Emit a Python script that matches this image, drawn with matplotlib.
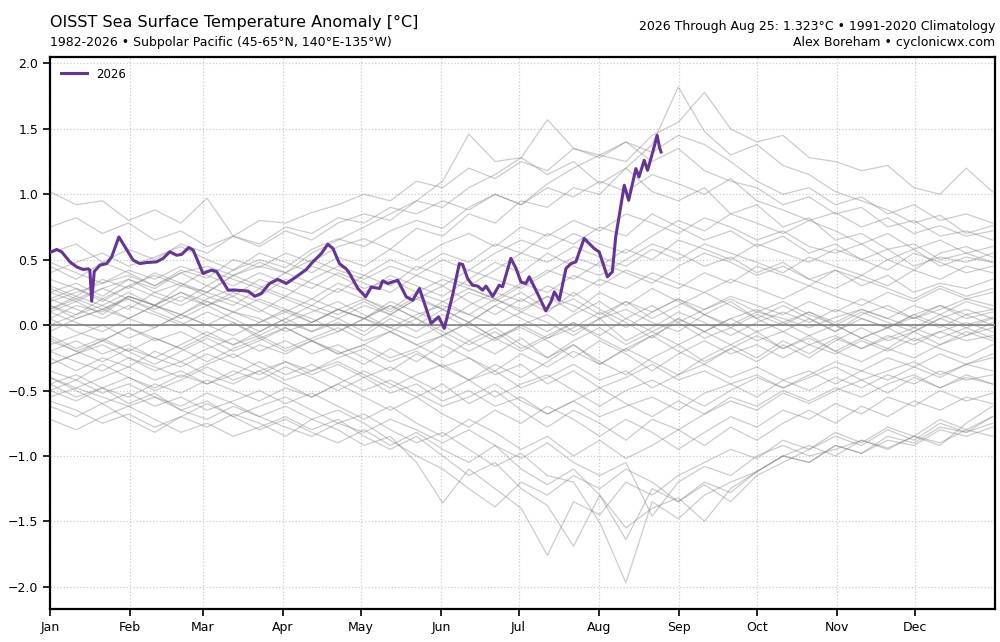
#!/usr/bin/env python3

import matplotlib
matplotlib.use('Agg')
import matplotlib.pyplot as plt
import numpy as np

# month ticks (day of year) and labels
month_days = [0, 31, 59, 90, 120, 151, 181, 212, 243, 273, 304, 334]
month_labels = ['Jan', 'Feb', 'Mar', 'Apr', 'May', 'Jun',
                'Jul', 'Aug', 'Sep', 'Oct', 'Nov', 'Dec']

# 2026 anomaly (day of year, degC)
days_2026 = [0, 2.6, 4.5, 7.7, 10.3, 12.8, 14.8, 15.4, 16.1, 17.1, 19.3, 21.9,
             23.8, 26.6, 28.9, 32.1, 34.7, 37.3, 41.1, 43.7, 46.3, 48.9, 50.8,
             53.6, 55.3, 59.1, 62.4, 64.3, 68.8, 72, 76.5, 79.1, 81.6, 84.8,
             88, 91.3, 95.1, 99, 101.5, 104.8, 107.3, 109.3, 111.8, 114.4,
             115.7, 118.9, 121.9, 124.1, 127.3, 128.5, 130.5, 134.3, 137.6,
             140.1, 142.7, 147.2, 150.1, 152.3, 155.5, 158.1, 159.4, 161.3,
             163.2, 165.2, 167.1, 168.4, 171, 173.5, 174.8, 178, 180, 181.9,
             183.8, 185.1, 188.3, 191.5, 193.5, 194.8, 196.7, 199.3, 201.2,
             203.1, 206.3, 210.2, 212.1, 215.3, 217.2, 218.5, 221.8, 223.5,
             226.3, 227.5, 229.5, 230.8, 233, 234.5, 235.4, 236]
vals_2026 = [0.555, 0.578, 0.56, 0.483, 0.445, 0.425, 0.43, 0.42, 0.183, 0.41,
             0.458, 0.47, 0.52, 0.674, 0.60, 0.496, 0.47, 0.478, 0.483, 0.51,
             0.56, 0.534, 0.54, 0.593, 0.573, 0.395, 0.42, 0.41, 0.267, 0.267,
             0.26, 0.22, 0.242, 0.318, 0.349, 0.318, 0.369, 0.425, 0.483,
             0.547, 0.618, 0.585, 0.47, 0.43, 0.395, 0.28, 0.216, 0.29, 0.28,
             0.338, 0.318, 0.343, 0.216, 0.19, 0.28, 0.013, 0.063, -0.025,
             0.229, 0.47, 0.463, 0.356, 0.305, 0.298, 0.267, 0.298, 0.22,
             0.305, 0.293, 0.51, 0.433, 0.33, 0.318, 0.369, 0.242, 0.109,
             0.178, 0.254, 0.19, 0.433, 0.47, 0.483, 0.662, 0.585, 0.56, 0.369,
             0.407, 0.674, 1.069, 0.954, 1.196, 1.132, 1.26, 1.183, 1.336,
             1.45, 1.36, 1.323]

# earlier years, sampled about every 10 days from Jan 1 to Dec 30
gray_days = np.linspace(0, 364, 37)

warm_years = [
    [1.02, 0.92, 0.95, 0.80, 0.88, 0.78, 0.97, 0.68, 0.80, 0.78, 0.86, 0.92, 1.00, 0.95, 1.10, 1.05, 1.20, 1.12, 1.25, 1.18, 1.35, 1.28, 1.40, 1.32, 1.45, 1.38, 1.25, 1.10, 1.00, 1.05, 0.92, 0.98, 0.85, 0.92, 0.80, 0.85, 0.78],
    [0.45, 0.35, 0.48, 0.40, 0.30, 0.42, 0.36, 0.50, 0.44, 0.55, 0.48, 0.60, 0.66, 0.58, 0.74, 0.68, 0.85, 0.78, 0.95, 0.90, 1.05, 1.00, 1.20, 1.38, 1.82, 1.48, 1.30, 1.38, 1.22, 1.15, 1.02, 0.95, 0.88, 0.78, 0.84, 0.70, 0.76],
    [0.25, 0.32, 0.22, 0.35, 0.28, 0.40, 0.30, 0.42, 0.50, 0.44, 0.58, 0.66, 0.60, 0.72, 0.80, 0.74, 0.90, 1.00, 0.92, 1.08, 1.20, 1.30, 1.25, 1.45, 1.55, 1.78, 1.50, 1.40, 1.45, 1.28, 1.25, 1.18, 1.22, 1.05, 1.00, 1.20, 1.02],
    [0.10, 0.18, 0.08, 0.22, 0.15, 0.30, 0.25, 0.38, 0.45, 0.40, 0.55, 0.65, 0.75, 0.85, 0.95, 1.10, 1.46, 1.25, 1.28, 1.15, 1.25, 1.08, 1.20, 1.02, 0.95, 1.05, 0.85, 0.92, 0.75, 0.82, 0.65, 0.70, 0.58, 0.62, 0.50, 0.55, 0.48],
    [0.55, 0.62, 0.48, 0.58, 0.50, 0.62, 0.55, 0.68, 0.60, 0.72, 0.65, 0.78, 0.85, 0.80, 0.95, 0.90, 1.05, 1.15, 1.28, 1.57, 1.35, 1.30, 1.40, 1.25, 1.35, 1.18, 1.10, 1.05, 0.92, 0.98, 0.85, 0.90, 0.75, 0.80, 0.68, 0.72, 0.65],
    [0.75, 0.82, 0.70, 0.78, 0.65, 0.72, 0.60, 0.68, 0.62, 0.75, 0.70, 0.82, 0.78, 0.90, 0.85, 0.95, 0.88, 1.00, 0.92, 1.05, 0.98, 1.10, 1.02, 1.15, 1.08, 1.00, 1.12, 0.95, 0.88, 0.80, 0.86, 0.75, 0.82, 0.70, 0.76, 0.68, 0.72],
]

mild_years = [
    [0.40, 0.48, 0.55, 0.45, 0.52, 0.60, 0.50, 0.42, 0.55, 0.48, 0.40, 0.52, 0.45, 0.58, 0.50, 0.62, 0.70, 0.60, 0.75, 0.68, 0.80, 0.72, 0.85, 0.78, 0.70, 0.82, 0.75, 0.65, 0.72, 0.60, 0.55, 0.62, 0.50, 0.58, 0.45, 0.52, 0.48],
    [0.30, 0.22, 0.35, 0.28, 0.40, 0.32, 0.25, 0.38, 0.30, 0.22, 0.35, 0.45, 0.38, 0.50, 0.42, 0.55, 0.48, 0.62, 0.55, 0.70, 0.62, 0.75, 0.68, 0.85, 0.75, 0.65, 0.72, 0.60, 0.68, 0.55, 0.62, 0.50, 0.58, 0.45, 0.52, 0.48, 0.55],
    [0.20, 0.28, 0.18, 0.30, 0.38, 0.30, 0.42, 0.35, 0.28, 0.40, 0.32, 0.25, 0.38, 0.30, 0.45, 0.38, 0.30, 0.42, 0.55, 0.48, 0.60, 0.52, 0.45, 0.58, 0.50, 0.62, 0.55, 0.48, 0.40, 0.52, 0.45, 0.38, 0.50, 0.42, 0.55, 0.60, 0.52],
    [0.15, 0.08, 0.20, 0.12, 0.25, 0.18, 0.30, 0.22, 0.35, 0.28, 0.20, 0.32, 0.25, 0.38, 0.30, 0.22, 0.35, 0.48, 0.40, 0.55, 0.45, 0.38, 0.50, 0.62, 0.55, 0.45, 0.52, 0.40, 0.48, 0.35, 0.42, 0.30, 0.38, 0.25, 0.32, 0.28, 0.35],
    [0.05, 0.15, 0.10, 0.22, 0.15, 0.08, 0.20, 0.28, 0.22, 0.35, 0.28, 0.40, 0.32, 0.25, 0.38, 0.30, 0.42, 0.35, 0.28, 0.40, 0.52, 0.45, 0.58, 0.50, 0.65, 0.58, 0.50, 0.62, 0.55, 0.48, 0.58, 0.50, 0.42, 0.55, 0.48, 0.40, 0.45],
    [0.35, 0.28, 0.20, 0.30, 0.22, 0.15, 0.25, 0.18, 0.10, 0.22, 0.15, 0.28, 0.20, 0.12, 0.25, 0.35, 0.28, 0.20, 0.32, 0.25, 0.38, 0.30, 0.42, 0.35, 0.28, 0.40, 0.32, 0.45, 0.38, 0.30, 0.42, 0.35, 0.28, 0.20, 0.30, 0.22, 0.28],
    [0.25, 0.18, 0.28, 0.35, 0.25, 0.32, 0.22, 0.15, 0.28, 0.20, 0.12, 0.05, 0.15, 0.08, 0.20, 0.12, 0.25, 0.18, 0.30, 0.42, 0.35, 0.48, 0.40, 0.32, 0.45, 0.55, 0.48, 0.38, 0.45, 0.35, 0.28, 0.38, 0.30, 0.42, 0.35, 0.45, 0.40],
    [0.12, 0.20, 0.28, 0.20, 0.12, 0.22, 0.15, 0.25, 0.18, 0.10, 0.20, 0.12, 0.05, 0.18, 0.10, 0.02, 0.15, 0.25, 0.18, 0.30, 0.22, 0.35, 0.28, 0.40, 0.32, 0.25, 0.35, 0.28, 0.20, 0.30, 0.22, 0.15, 0.25, 0.18, 0.28, 0.20, 0.25],
    [0.48, 0.40, 0.32, 0.42, 0.35, 0.45, 0.38, 0.30, 0.40, 0.32, 0.45, 0.38, 0.28, 0.35, 0.25, 0.18, 0.28, 0.20, 0.12, 0.22, 0.15, 0.05, 0.18, 0.10, 0.20, 0.12, 0.22, 0.15, 0.08, 0.18, 0.10, 0.20, 0.12, 0.05, 0.15, 0.08, 0.12],
    [0.18, 0.25, 0.32, 0.38, 0.30, 0.40, 0.45, 0.38, 0.48, 0.40, 0.50, 0.42, 0.35, 0.45, 0.38, 0.50, 0.42, 0.55, 0.65, 0.58, 0.70, 0.62, 0.55, 0.68, 0.80, 0.72, 0.85, 0.78, 0.70, 0.80, 0.72, 0.62, 0.70, 0.58, 0.65, 0.55, 0.60],
]

neutral_years = [
    [0.10, 0.02, -0.05, 0.05, -0.02, 0.08, 0.00, 0.10, 0.05, -0.05, 0.02, 0.12, 0.05, -0.02, 0.08, 0.15, 0.08, 0.00, 0.10, 0.02, -0.08, 0.05, 0.12, 0.02, -0.05, 0.08, 0.00, 0.10, 0.05, -0.02, 0.06, 0.12, 0.05, 0.15, 0.08, 0.18, 0.12],
    [-0.05, 0.05, 0.12, 0.05, 0.15, 0.08, 0.18, 0.10, 0.02, 0.12, 0.05, -0.05, 0.05, 0.15, 0.05, -0.08, 0.02, -0.10, 0.00, 0.08, -0.05, 0.05, -0.12, -0.02, 0.10, 0.02, -0.08, 0.02, 0.10, 0.02, 0.12, 0.05, -0.02, 0.08, 0.15, 0.05, 0.10],
    [0.20, 0.12, 0.05, 0.15, 0.08, 0.00, 0.10, 0.02, -0.08, 0.02, -0.05, 0.05, -0.05, 0.08, 0.00, 0.12, 0.02, 0.15, 0.05, -0.05, 0.08, 0.18, 0.05, 0.15, 0.02, 0.12, 0.20, 0.10, 0.18, 0.08, 0.00, 0.10, 0.02, -0.05, 0.05, 0.12, 0.05],
    [-0.15, -0.08, 0.00, -0.10, -0.02, 0.08, 0.00, -0.08, 0.02, 0.10, 0.02, 0.12, 0.20, 0.10, 0.22, 0.12, 0.02, 0.15, 0.25, 0.12, 0.20, 0.08, 0.18, 0.05, 0.15, 0.25, 0.15, 0.05, 0.15, 0.05, -0.05, 0.05, -0.02, 0.08, 0.00, -0.08, 0.02],
    [0.05, -0.05, -0.12, -0.02, -0.10, -0.18, -0.08, -0.15, -0.05, 0.05, -0.05, 0.02, -0.08, 0.05, -0.05, 0.08, -0.02, -0.12, 0.00, -0.10, 0.02, -0.08, 0.05, -0.05, -0.15, -0.05, 0.05, -0.05, 0.02, -0.08, 0.00, -0.10, -0.02, 0.06, -0.02, 0.08, 0.00],
    [-0.20, -0.12, -0.22, -0.15, -0.25, -0.15, -0.05, -0.15, -0.08, -0.18, -0.10, -0.02, -0.12, -0.05, -0.15, -0.25, -0.12, -0.02, -0.15, -0.25, -0.12, -0.02, -0.15, -0.05, 0.05, -0.05, 0.05, 0.12, 0.02, 0.10, 0.00, -0.10, -0.02, -0.12, -0.05, 0.02, -0.05],
    [0.28, 0.20, 0.12, 0.22, 0.15, 0.25, 0.18, 0.10, 0.20, 0.12, 0.02, 0.12, 0.05, -0.05, 0.05, -0.05, -0.15, -0.05, -0.18, -0.08, 0.02, -0.10, -0.20, -0.08, 0.02, -0.10, -0.02, 0.08, 0.00, 0.10, 0.02, 0.12, 0.05, -0.02, 0.08, 0.00, 0.06],
    [-0.10, -0.20, -0.12, -0.02, -0.12, -0.05, -0.15, -0.25, -0.15, -0.22, -0.12, -0.20, -0.30, -0.18, -0.28, -0.15, -0.25, -0.35, -0.22, -0.32, -0.20, -0.30, -0.18, -0.28, -0.38, -0.25, -0.15, -0.25, -0.12, -0.22, -0.10, -0.18, -0.08, -0.15, -0.05, -0.12, -0.08],
    [0.00, 0.08, 0.15, 0.25, 0.15, 0.05, 0.15, 0.22, 0.12, 0.02, 0.10, 0.18, 0.08, -0.02, -0.10, 0.00, -0.12, -0.22, -0.10, -0.25, -0.15, -0.30, -0.18, -0.08, -0.20, -0.30, -0.18, -0.28, -0.15, -0.25, -0.12, -0.02, -0.12, -0.05, 0.05, -0.02, -0.10],
    [-0.30, -0.22, -0.12, -0.20, -0.10, -0.18, -0.28, -0.18, -0.10, -0.20, -0.12, -0.22, -0.15, -0.05, -0.15, -0.08, -0.20, -0.10, -0.02, -0.12, -0.25, -0.12, -0.22, -0.35, -0.22, -0.12, -0.22, -0.15, -0.25, -0.15, -0.22, -0.12, -0.20, -0.10, -0.18, -0.25, -0.15],
    [0.12, 0.22, 0.15, 0.05, 0.15, 0.25, 0.15, 0.05, -0.05, 0.05, 0.15, 0.08, 0.18, 0.08, 0.20, 0.30, 0.18, 0.08, 0.20, 0.10, 0.25, 0.12, 0.02, -0.10, 0.05, -0.05, -0.15, -0.05, -0.18, -0.08, -0.20, -0.10, -0.18, -0.05, -0.15, -0.08, -0.02],
    [-0.25, -0.35, -0.25, -0.32, -0.20, -0.28, -0.18, -0.10, -0.20, -0.12, -0.22, -0.15, -0.25, -0.35, -0.22, -0.32, -0.42, -0.30, -0.40, -0.28, -0.15, -0.28, -0.38, -0.25, -0.15, -0.28, -0.18, -0.08, -0.18, -0.10, -0.20, -0.28, -0.18, -0.25, -0.15, -0.05, -0.12],
    [0.15, 0.05, 0.12, 0.20, 0.10, 0.02, -0.08, 0.02, -0.10, -0.02, -0.12, -0.05, 0.05, 0.15, 0.05, 0.18, 0.08, 0.20, 0.10, 0.22, 0.10, 0.25, 0.15, 0.28, 0.18, 0.08, 0.18, 0.05, -0.05, 0.05, -0.05, 0.08, 0.15, 0.05, 0.12, 0.20, 0.15],
    [-0.08, -0.18, -0.10, -0.20, -0.30, -0.20, -0.10, -0.20, -0.12, -0.02, -0.12, -0.22, -0.15, -0.25, -0.18, -0.08, 0.02, -0.10, -0.20, -0.10, -0.02, 0.10, -0.02, 0.10, 0.20, 0.08, -0.02, -0.12, -0.05, -0.15, -0.08, -0.18, -0.10, -0.02, -0.10, -0.02, 0.05],
]

cool_years = [
    [-0.35, -0.42, -0.30, -0.40, -0.48, -0.38, -0.45, -0.35, -0.42, -0.32, -0.40, -0.50, -0.40, -0.52, -0.45, -0.58, -0.50, -0.62, -0.55, -0.68, -0.58, -0.70, -0.62, -0.55, -0.65, -0.52, -0.45, -0.55, -0.42, -0.50, -0.40, -0.48, -0.38, -0.45, -0.35, -0.42, -0.38],
    [-0.45, -0.38, -0.48, -0.55, -0.45, -0.52, -0.42, -0.50, -0.58, -0.48, -0.55, -0.45, -0.35, -0.45, -0.55, -0.45, -0.60, -0.50, -0.65, -0.78, -0.65, -0.75, -0.88, -0.72, -0.80, -0.68, -0.58, -0.65, -0.52, -0.60, -0.50, -0.42, -0.52, -0.40, -0.48, -0.38, -0.45],
    [-0.20, -0.28, -0.35, -0.25, -0.32, -0.40, -0.30, -0.22, -0.32, -0.42, -0.35, -0.28, -0.38, -0.48, -0.38, -0.30, -0.42, -0.55, -0.45, -0.38, -0.50, -0.62, -0.50, -0.42, -0.52, -0.62, -0.50, -0.40, -0.48, -0.38, -0.28, -0.35, -0.25, -0.32, -0.22, -0.30, -0.25],
    [-0.50, -0.58, -0.48, -0.40, -0.50, -0.42, -0.32, -0.42, -0.35, -0.45, -0.55, -0.45, -0.55, -0.65, -0.55, -0.68, -0.78, -0.65, -0.75, -0.62, -0.72, -0.85, -0.72, -0.82, -0.95, -0.82, -0.70, -0.78, -0.65, -0.72, -0.60, -0.68, -0.55, -0.62, -0.50, -0.58, -0.52],
    [-0.30, -0.22, -0.15, -0.25, -0.35, -0.28, -0.38, -0.45, -0.35, -0.28, -0.38, -0.30, -0.40, -0.32, -0.42, -0.52, -0.42, -0.35, -0.48, -0.40, -0.30, -0.42, -0.35, -0.48, -0.38, -0.30, -0.40, -0.32, -0.42, -0.35, -0.45, -0.35, -0.42, -0.32, -0.40, -0.30, -0.35],
    [-0.40, -0.50, -0.60, -0.52, -0.62, -0.55, -0.65, -0.58, -0.50, -0.60, -0.52, -0.62, -0.72, -0.62, -0.75, -0.85, -0.72, -0.82, -0.95, -0.85, -1.00, -0.88, -1.02, -0.92, -0.80, -0.92, -0.78, -0.88, -0.75, -0.65, -0.75, -0.62, -0.70, -0.58, -0.65, -0.55, -0.60],
    [-0.12, -0.20, -0.28, -0.18, -0.25, -0.32, -0.22, -0.30, -0.38, -0.28, -0.35, -0.25, -0.18, -0.28, -0.20, -0.32, -0.25, -0.38, -0.30, -0.45, -0.35, -0.48, -0.40, -0.30, -0.42, -0.35, -0.45, -0.38, -0.48, -0.40, -0.32, -0.42, -0.35, -0.28, -0.38, -0.30, -0.22],
    [-0.55, -0.48, -0.40, -0.32, -0.42, -0.35, -0.45, -0.38, -0.28, -0.38, -0.30, -0.40, -0.50, -0.42, -0.52, -0.62, -0.55, -0.45, -0.58, -0.68, -0.58, -0.48, -0.60, -0.70, -0.58, -0.68, -0.55, -0.62, -0.50, -0.58, -0.48, -0.55, -0.45, -0.38, -0.48, -0.40, -0.45],
]

cold_years = [
    [-0.62, -0.70, -0.60, -0.72, -0.82, -0.70, -0.78, -0.68, -0.75, -0.85, -0.72, -0.80, -0.92, -0.85, -1.05, -1.36, -1.10, -1.25, -1.40, -1.76, -1.35, -1.45, -1.20, -1.30, -1.15, -1.05, -0.95, -1.02, -0.88, -0.95, -0.82, -0.90, -0.78, -0.85, -0.72, -0.80, -0.70],
    [-0.45, -0.55, -0.48, -0.60, -0.52, -0.65, -0.58, -0.70, -0.62, -0.55, -0.65, -0.75, -0.68, -0.80, -0.90, -0.82, -0.95, -1.08, -0.98, -1.15, -1.20, -1.51, -1.97, -1.35, -1.48, -1.30, -1.20, -1.12, -1.00, -1.05, -0.92, -0.98, -0.85, -0.90, -0.78, -0.82, -0.75],
    [-0.72, -0.80, -0.70, -0.62, -0.72, -0.82, -0.75, -0.85, -0.78, -0.70, -0.80, -0.72, -0.85, -0.95, -0.85, -1.00, -1.15, -1.05, -1.25, -1.38, -1.69, -1.30, -1.55, -1.40, -1.32, -1.50, -1.25, -1.12, -1.00, -1.05, -0.92, -0.98, -0.88, -0.92, -0.80, -0.85, -0.78],
    [-0.58, -0.65, -0.75, -0.68, -0.78, -0.70, -0.60, -0.70, -0.80, -0.72, -0.82, -0.90, -0.80, -0.92, -0.82, -0.95, -1.05, -0.92, -1.10, -1.22, -1.10, -1.30, -1.64, -1.25, -1.35, -1.20, -1.28, -1.12, -1.00, -0.92, -1.00, -0.88, -0.95, -0.85, -0.90, -0.80, -0.85],
    [-0.50, -0.42, -0.52, -0.45, -0.55, -0.62, -0.52, -0.60, -0.70, -0.62, -0.72, -0.65, -0.75, -0.88, -1.00, -1.10, -1.25, -1.39, -1.20, -1.30, -1.15, -1.25, -1.10, -1.20, -1.35, -1.22, -1.35, -1.15, -1.05, -0.95, -0.85, -0.92, -0.80, -0.88, -0.75, -0.82, -0.70],
    [-0.40, -0.48, -0.55, -0.62, -0.55, -0.65, -0.72, -0.62, -0.70, -0.78, -0.85, -0.75, -0.82, -0.72, -0.80, -0.90, -0.80, -0.92, -1.02, -0.90, -1.05, -1.15, -1.05, -1.46, -1.20, -1.08, -1.15, -1.00, -0.92, -1.00, -0.95, -0.88, -0.94, -0.85, -0.92, -0.75, -0.62],
]


if __name__ == '__main__':
    fig = plt.figure(figsize=(10, 6.42), dpi=100)
    ax = fig.add_axes([0.05, 0.0514, 0.945, 0.86])

    # past years in light gray
    for group in [warm_years, mild_years, neutral_years, cool_years, cold_years]:
        for series in group:
            ax.plot(gray_days, series, color='gray', alpha=0.4, lw=0.9, zorder=2)

    ax.axhline(0, color='#808080', lw=1.2, zorder=3)
    ax.plot(days_2026, vals_2026, color='#663399', lw=2.2, label='2026', zorder=4)

    ax.set_xlim(0, 365)
    ax.set_ylim(-2.17, 2.05)
    ax.set_xticks(month_days)
    ax.set_xticklabels(month_labels)
    ax.set_yticks(np.arange(-2.0, 2.01, 0.5))
    ax.tick_params(labelsize=9, direction='out', length=5, width=1.2)
    ax.grid(True, color='#cccccc', linestyle=':', lw=0.9)
    ax.set_axisbelow(True)
    for sp in ax.spines.values():
        sp.set_linewidth(1.6)

    ax.legend(loc='upper left', frameon=False, fontsize=8.5, handlelength=2.2)

    fig.text(0.05, 0.958, 'OISST Sea Surface Temperature Anomaly [\u00b0C]',
             fontsize=11.5, ha='left', va='baseline')
    fig.text(0.05, 0.928, '1982-2026 \u2022 Subpolar Pacific (45-65\u00b0N, 140\u00b0E-135\u00b0W)',
             fontsize=9, ha='left', va='baseline')
    fig.text(0.995, 0.953, '2026 Through Aug 25: 1.323\u00b0C \u2022 1991-2020 Climatology',
             fontsize=9, ha='right', va='baseline')
    fig.text(0.995, 0.928, 'Alex Boreham \u2022 cyclonicwx.com',
             fontsize=9, ha='right', va='baseline')

    plt.savefig('out.png', dpi=100)
